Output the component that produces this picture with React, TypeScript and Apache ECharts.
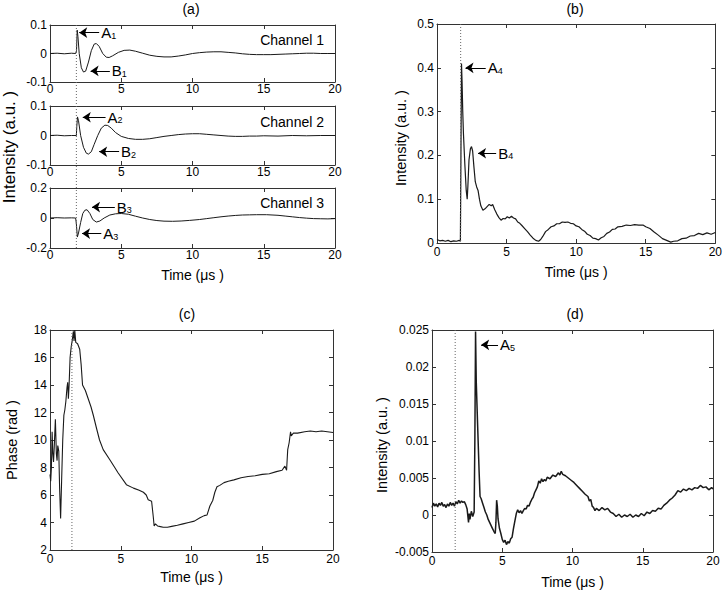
import React, { useEffect, useRef } from 'react';
import * as echarts from 'echarts';

// ---------- data ----------
const timeTicks = [0, 5, 10, 15, 20];

const channel1: number[][] = [
  [0, 0], [0.5, 0.001], [1, -0.001], [1.5, 0.001], [1.8, 0], [1.86, 0.01], [1.91, 0.082], [1.96, 0.06],
  [2.05, 0.0], [2.2, -0.05], [2.35, -0.065], [2.5, -0.062], [2.7, -0.03], [2.9, 0.01], [3.1, 0.033],
  [3.25, 0.035], [3.45, 0.025], [3.7, 0.0], [3.95, -0.013], [4.15, -0.014], [4.4, -0.008], [4.8, 0.004],
  [5.2, 0.011], [5.6, 0.012], [6.0, 0.008], [6.5, 0.001], [7.0, -0.006], [7.5, -0.01], [8.0, -0.012],
  [8.5, -0.012], [9.0, -0.009], [9.5, -0.005], [10.0, 0.0], [10.5, 0.003], [11.0, 0.005], [11.5, 0.006],
  [12.0, 0.006], [12.5, 0.004], [13.0, 0.002], [13.5, -0.001], [14.0, -0.003], [14.5, -0.004], [15.0, -0.004],
  [15.5, -0.004], [16.0, -0.003], [16.5, -0.002], [17.0, -0.001], [17.5, 0.0], [18, 0.001], [18.5, 0.001],
  [19, 0.0], [19.5, 0.0], [20, 0.0],
];

const channel2: number[][] = [
  [0, 0], [0.5, 0.001], [1, -0.001], [1.5, 0.0], [1.85, 0.0], [1.88, 0.03], [1.93, 0.063], [2.0, 0.05],
  [2.15, 0.0], [2.35, -0.04], [2.55, -0.06], [2.7, -0.063], [2.9, -0.055], [3.1, -0.03], [3.35, 0.0],
  [3.6, 0.025], [3.85, 0.035], [4.05, 0.034], [4.3, 0.025], [4.6, 0.01], [5.0, -0.003], [5.5, -0.01],
  [6.0, -0.013], [6.5, -0.013], [7.0, -0.011], [7.5, -0.007], [8.0, -0.003], [8.5, 0.0], [9.0, 0.003],
  [9.5, 0.005], [10.0, 0.006], [10.5, 0.006], [11.0, 0.004], [11.5, 0.002], [12.0, 0.0], [12.5, -0.002],
  [13.0, -0.003], [13.5, -0.003], [14.0, -0.002], [14.5, -0.002], [15, -0.001], [16, -0.002], [17, 0.0],
  [18, -0.001], [19, 0.0], [20, 0.0],
];

const channel3: number[][] = [
  [0, 0], [0.5, 0.002], [1, 0.0], [1.5, 0.001], [1.8, 0.0], [1.85, -0.04], [1.92, -0.127], [2.0, -0.1],
  [2.15, -0.03], [2.3, 0.03], [2.45, 0.052], [2.6, 0.055], [2.8, 0.03], [3.0, -0.01], [3.25, -0.027],
  [3.5, -0.02], [3.8, 0.0], [4.2, 0.02], [4.6, 0.028], [5.0, 0.03], [5.5, 0.025], [6.0, 0.012], [6.5, 0.0],
  [7.0, -0.01], [7.5, -0.017], [8.0, -0.021], [8.6, -0.022], [9.2, -0.02], [9.8, -0.016], [10.5, -0.01],
  [11, -0.004], [11.5, 0.002], [12, 0.008], [12.5, 0.013], [13, 0.017], [13.5, 0.02], [14, 0.021],
  [14.5, 0.022], [15.2, 0.022], [16, 0.018], [16.5, 0.013], [17, 0.008], [17.5, 0.003], [18, -0.001],
  [18.5, -0.004], [19, -0.005], [19.5, -0.006], [20, -0.004],
];

const envelope: number[][] = [
  [0, 0.008], [0.2, 0.005], [0.4, 0.006], [0.6, 0.004], [0.8, 0.006], [1.0, 0.003], [1.2, 0.005], [1.4, 0.004],
  [1.6, 0.006], [1.68, 0.004], [1.72, 0.2], [1.76, 0.41], [1.8, 0.37], [1.85, 0.3], [1.9, 0.25], [2.0, 0.18],
  [2.1, 0.12], [2.17, 0.1], [2.22, 0.13], [2.3, 0.19], [2.4, 0.215], [2.48, 0.22], [2.56, 0.21], [2.65, 0.175],
  [2.75, 0.14], [2.85, 0.128], [2.95, 0.12], [3.05, 0.1], [3.15, 0.085], [3.3, 0.075], [3.45, 0.078],
  [3.6, 0.083], [3.75, 0.088], [3.9, 0.085], [4.0, 0.088], [4.15, 0.076], [4.3, 0.066], [4.45, 0.058],
  [4.6, 0.052], [4.75, 0.056], [4.9, 0.055], [5.05, 0.06], [5.2, 0.057], [5.35, 0.061], [5.5, 0.057],
  [5.65, 0.055], [5.8, 0.048], [5.95, 0.045], [6.1, 0.04], [6.3, 0.033], [6.5, 0.026], [6.7, 0.018],
  [6.9, 0.011], [7.1, 0.006], [7.3, 0.004], [7.45, 0.008], [7.6, 0.015], [7.8, 0.026], [8.0, 0.031],
  [8.2, 0.037], [8.4, 0.039], [8.6, 0.044], [8.8, 0.044], [9.0, 0.048], [9.2, 0.047], [9.4, 0.048],
  [9.6, 0.045], [9.8, 0.044], [10.0, 0.039], [10.2, 0.037], [10.4, 0.031], [10.6, 0.027], [10.8, 0.02],
  [11.0, 0.017], [11.2, 0.011], [11.4, 0.01], [11.6, 0.007], [11.8, 0.012], [12.0, 0.015], [12.2, 0.022],
  [12.4, 0.025], [12.6, 0.031], [12.8, 0.032], [13.0, 0.037], [13.3, 0.038], [13.6, 0.041], [13.9, 0.04],
  [14.2, 0.042], [14.5, 0.041], [14.8, 0.041], [15.0, 0.037], [15.3, 0.033], [15.6, 0.025], [15.9, 0.018],
  [16.2, 0.01], [16.5, 0.006], [16.8, 0.002], [17.0, 0.004], [17.3, 0.005], [17.6, 0.01], [17.9, 0.011],
  [18.2, 0.016], [18.5, 0.017], [18.8, 0.022], [19.1, 0.019], [19.4, 0.023], [19.7, 0.02], [20, 0.024],
];

const phase: number[][] = [
  [0, 7.5], [0.05, 7.0], [0.1, 8.0], [0.15, 10.6], [0.2, 9.0], [0.25, 8.4], [0.3, 9.5], [0.38, 11.5],
  [0.45, 9.0], [0.5, 8.5], [0.55, 9.6], [0.62, 9.2], [0.68, 6.5], [0.75, 4.3], [0.82, 7.0], [0.9, 10.0],
  [0.98, 11.8], [1.05, 12.2], [1.12, 12.8], [1.2, 13.8], [1.25, 14.2], [1.3, 13.0], [1.35, 14.0],
  [1.42, 16.0], [1.5, 16.8], [1.58, 17.3], [1.65, 17.9], [1.7, 17.2], [1.75, 18.0], [1.82, 17.1],
  [1.95, 17.0], [2.1, 16.6], [2.2, 15.5], [2.3, 14.0], [2.5, 13.6], [2.7, 13.0], [2.9, 12.4], [3.06, 11.8],
  [3.3, 10.8], [3.5, 10.0], [3.76, 9.3], [4.24, 8.55], [4.82, 7.6], [5.4, 6.75], [5.9, 6.5], [6.3, 6.35],
  [6.6, 6.2], [6.8, 6.0], [6.94, 5.65], [7.18, 5.55], [7.3, 4.4], [7.36, 3.75], [7.45, 3.9], [7.6, 3.75],
  [7.8, 3.7], [8.0, 3.65], [8.3, 3.65], [8.6, 3.72], [9.0, 3.8], [9.4, 3.9], [9.8, 4.0], [10.2, 4.1],
  [10.6, 4.35], [10.9, 4.5], [11.1, 4.55], [11.3, 5.2], [11.5, 5.6], [11.65, 6.2], [11.8, 6.6], [12.0, 6.7],
  [12.3, 6.9], [12.6, 7.0], [13.0, 7.1], [13.5, 7.25], [14.0, 7.35], [14.5, 7.4], [15.0, 7.5], [15.5, 7.55],
  [16.0, 7.7], [16.4, 7.8], [16.6, 8.1], [16.72, 7.8], [16.8, 9.3], [16.9, 9.8], [17.0, 10.6], [17.05, 10.3],
  [17.2, 10.5], [17.5, 10.5], [18.0, 10.6], [18.4, 10.65], [18.8, 10.6], [19.2, 10.65], [19.6, 10.6], [20, 10.55],
];

const filtered: number[][] = [
  [0, 0.001], [0.1, 0.0016], [0.2, 0.0012], [0.3, 0.0015], [0.4, 0.0011], [0.5, 0.0016], [0.6, 0.0013],
  [0.7, 0.0017], [0.8, 0.0012], [0.9, 0.0014], [1.0, 0.001], [1.1, 0.0015], [1.2, 0.0012], [1.3, 0.0017],
  [1.4, 0.0013], [1.5, 0.0016], [1.6, 0.0012], [1.7, 0.0018], [1.8, 0.0015], [1.9, 0.002], [2.0, 0.0016],
  [2.1, 0.0019], [2.2, 0.0017], [2.3, 0.0018], [2.4, 0.0014], [2.5, 0.0008], [2.6, -0.001], [2.65, 0.0002],
  [2.7, -0.0006], [2.8, 0.0005], [2.9, -0.0002], [3.0, 0.0004], [3.05, 0.01], [3.1, 0.0248], [3.15, 0.018],
  [3.25, 0.012], [3.35, 0.006], [3.42, 0.0025], [3.5, 0.0022], [3.6, 0.0016], [3.7, 0.001], [3.8, 0.0004],
  [3.9, 0.0], [4.0, -0.0006], [4.1, -0.001], [4.2, -0.0014], [4.3, -0.0018], [4.4, -0.0022], [4.5, -0.0025],
  [4.55, -0.001], [4.6, 0.002], [4.65, 0.0012], [4.7, -0.0005], [4.8, -0.0018], [4.9, -0.0025], [5.0, -0.0033],
  [5.1, -0.0037], [5.2, -0.0034], [5.3, -0.004], [5.4, -0.0036], [5.5, -0.0038], [5.6, -0.0032], [5.7, -0.003],
  [5.8, -0.0018], [5.9, -0.0008], [6.0, 0.0002], [6.1, 0.0007], [6.2, 0.0003], [6.3, 0.0006], [6.4, 0.0002],
  [6.5, 0.0006], [6.6, 0.0009], [6.7, 0.0008], [6.8, 0.0013], [6.9, 0.0012], [7.0, 0.0017], [7.1, 0.0021],
  [7.2, 0.0024], [7.3, 0.003], [7.4, 0.0034], [7.5, 0.0038], [7.6, 0.0046], [7.7, 0.0043], [7.8, 0.0049],
  [7.9, 0.0045], [8.0, 0.0048], [8.1, 0.0046], [8.2, 0.0051], [8.4, 0.0049], [8.6, 0.0054], [8.8, 0.0052],
  [9.0, 0.0057], [9.1, 0.0054], [9.2, 0.0059], [9.3, 0.0055], [9.5, 0.0053], [9.7, 0.005], [9.9, 0.0047],
  [10.1, 0.0044], [10.3, 0.004], [10.5, 0.0036], [10.7, 0.0032], [10.9, 0.0028], [11.1, 0.0025], [11.2, 0.0019],
  [11.3, 0.0021], [11.4, 0.0012], [11.5, 0.001], [11.6, 0.0006], [11.7, 0.0009], [11.9, 0.0006], [12.1, 0.001],
  [12.3, 0.0007], [12.5, 0.0009], [12.7, 0.0004], [12.9, 0.0002], [13.1, -0.0002], [13.3, 0.0001], [13.5, -0.0003],
  [13.7, 0.0], [13.9, -0.0002], [14.1, 0.0001], [14.3, -0.0003], [14.5, 0.0], [14.7, -0.0002], [14.9, 0.0002],
  [15.1, -0.0001], [15.3, 0.0004], [15.5, 0.0002], [15.7, 0.0006], [15.9, 0.0005], [16.1, 0.0009], [16.3, 0.0008],
  [16.5, 0.0013], [16.7, 0.0016], [16.9, 0.002], [17.1, 0.0023], [17.3, 0.0027], [17.5, 0.0033], [17.7, 0.0031],
  [17.9, 0.0035], [18.1, 0.0033], [18.3, 0.0036], [18.5, 0.0034], [18.7, 0.0037], [18.9, 0.0036], [19.1, 0.004],
  [19.3, 0.0037], [19.5, 0.0038], [19.7, 0.0034], [19.9, 0.0037], [20, 0.0035],
];

// y ranges [min, max, interval] per plot
const yRangeCh1 = [-0.1, 0.1, 0.1];
const yRangeCh2 = [-0.1, 0.1, 0.1];
const yRangeCh3 = [-0.2, 0.2, 0.2];
const yRangeB = [0, 0.5, 0.1];
const yRangeC = [2, 18, 2];
const yRangeD = [-0.005, 0.025, 0.005];

// onset (dotted line) times
const onsetA = 1.85;
const onsetB = 1.7;
const onsetC = 1.55;
const onsetD = 1.65;

// arrow annotations: [tailX, tailY, headX, headY], letter, subscript
type Arrow = { line: number[]; letter: string; sub: string };
const arrowsCh1: Arrow[] = [
  { line: [3.45, 0.073, 2.05, 0.073], letter: 'A', sub: '1' },
  { line: [4.2, -0.061, 2.85, -0.061], letter: 'B', sub: '1' },
];
const arrowsCh2: Arrow[] = [
  { line: [3.9, 0.062, 2.3, 0.062], letter: 'A', sub: '2' },
  { line: [4.85, -0.055, 3.45, -0.055], letter: 'B', sub: '2' },
];
const arrowsCh3: Arrow[] = [
  { line: [4.55, 0.073, 2.95, 0.073], letter: 'B', sub: '3' },
  { line: [3.6, -0.104, 2.25, -0.104], letter: 'A', sub: '3' },
];
const arrowsB: Arrow[] = [
  { line: [3.5, 0.4, 2.05, 0.4], letter: 'A', sub: '4' },
  { line: [4.25, 0.205, 2.95, 0.205], letter: 'B', sub: '4' },
];
const arrowsD: Arrow[] = [{ line: [4.7, 0.023, 3.5, 0.023], letter: 'A', sub: '5' }];

// ---------- layout ----------
const FONT = '"Liberation Sans", Arial, sans-serif';
const INK = '#000';
const LINE = '#1a1a1a';
const AXIS = '#333';

const grids = [
  { left: 50, top: 25, width: 285, height: 57 },
  { left: 50, top: 106, width: 285, height: 59 },
  { left: 50, top: 188, width: 285, height: 60 },
  { left: 437, top: 24, width: 280, height: 219 },
  { left: 50, top: 330, width: 283, height: 220 },
  { left: 432, top: 330, width: 281, height: 222 },
];

const panels = [
  { data: channel1, y: yRangeCh1, arrows: arrowsCh1, xName: '', gap: 0, margin: 1, lw: 1 },
  { data: channel2, y: yRangeCh2, arrows: arrowsCh2, xName: '', gap: 0, margin: 1, lw: 1 },
  { data: channel3, y: yRangeCh3, arrows: arrowsCh3, xName: 'Time (μs )', gap: 20, margin: 1, lw: 1 },
  { data: envelope, y: yRangeB, arrows: arrowsB, xName: 'Time (μs )', gap: 22, margin: 3, lw: 1.2 },
  { data: phase, y: yRangeC, arrows: [] as Arrow[], xName: 'Time (μs )', gap: 20, margin: 3, lw: 1.1 },
  { data: filtered, y: yRangeD, arrows: arrowsD, xName: 'Time (μs )', gap: 23, margin: 3, lw: 1.5 },
];

function buildOption() {
  const xAxis: any[] = [];
  const yAxis: any[] = [];
  const series: any[] = [];
  const axisLine = { show: true, onZero: false, lineStyle: { color: AXIS, width: 1 } };
  const tick = { show: true, inside: true, length: 4, lineStyle: { color: AXIS } };
  const lbl = { color: INK, fontSize: 12, fontFamily: FONT };
  panels.forEach((p, g) => {
    const xb = {
      type: 'value', gridIndex: g, position: 'bottom', min: timeTicks[0], max: timeTicks[timeTicks.length - 1],
      interval: timeTicks[1] - timeTicks[0], axisLine, axisTick: tick, splitLine: { show: false },
      axisLabel: { ...lbl, margin: p.margin },
      name: p.xName, nameLocation: 'middle', nameGap: p.gap,
      nameTextStyle: { color: INK, fontSize: 14, fontFamily: FONT },
    };
    const xt = { ...xb, position: 'top', axisLabel: { show: false }, name: '' };
    xAxis.push(xb, xt);
    const yl = {
      type: 'value', gridIndex: g, position: 'left', min: p.y[0], max: p.y[1], interval: p.y[2],
      axisLine, axisTick: tick, splitLine: { show: false }, axisLabel: { ...lbl, margin: 3 },
    };
    const yr = { ...yl, position: 'right', axisLabel: { show: false } };
    yAxis.push(yl, yr);
    series.push({
      type: 'line', xAxisIndex: 2 * g, yAxisIndex: 2 * g, data: p.data, showSymbol: false, symbol: 'none',
      lineStyle: { color: LINE, width: p.lw }, silent: true,
      markLine: p.arrows.length
        ? {
            silent: true, symbol: ['none', 'arrow'], symbolSize: 8,
            lineStyle: { color: INK, width: 1, type: 'solid' },
            itemStyle: { color: INK },
            label: {
              show: true, position: 'start', distance: 2,
              rich: {
                n: { fontSize: 15, fontFamily: FONT, color: INK },
                s: { fontSize: 9, fontFamily: FONT, color: INK, verticalAlign: 'bottom', padding: [5, 0, 0, 0] },
              },
            },
            data: p.arrows.map((a) => [
              { coord: [a.line[0], a.line[1]], label: { formatter: `{n|${a.letter}}{s|${a.sub}}` } },
              { coord: [a.line[2], a.line[3]] },
            ]),
          }
        : undefined,
    });
  });
  return {
    animation: false,
    backgroundColor: '#fff',
    grid: grids.map((g) => ({ ...g, containLabel: false })),
    xAxis, yAxis, series,
  };
}

function textEl(text: string, x: number, y: number, size: number, rotate = 0, align = 'center') {
  return {
    type: 'text', x, y, rotation: rotate, silent: true,
    style: { text, fill: INK, font: `${size}px ${FONT}`, align, verticalAlign: 'middle' },
  };
}

export default function App() {
  const ref = useRef<HTMLDivElement>(null);
  useEffect(() => {
    if (!ref.current) return;
    const chart = echarts.init(ref.current, undefined, { renderer: 'svg' });
    chart.setOption(buildOption() as any);
    const px = (axis: number, v: number) => chart.convertToPixel({ xAxisIndex: axis } as any, v) as number;
    const py = (axis: number, v: number) => chart.convertToPixel({ yAxisIndex: axis } as any, v) as number;
    const dotted = (x: number, y1: number, y2: number) => ({
      type: 'line', silent: true, z: 5,
      shape: { x1: x, y1, x2: x, y2 },
      style: { stroke: '#666', lineWidth: 1, lineDash: [1, 2] },
    });
    const graphic: any[] = [
      dotted(px(0, onsetA), py(0, yRangeCh1[1]), py(4, yRangeCh3[0])),
      dotted(px(6, onsetB), py(6, yRangeB[1]), py(6, yRangeB[0])),
      dotted(px(8, onsetC), py(8, yRangeC[1]), py(8, yRangeC[0])),
      dotted(px(10, onsetD), py(10, yRangeD[1]), py(10, yRangeD[0])),
      textEl('(a)', 191, 9, 14),
      textEl('(b)', 575, 9, 14),
      textEl('(c)', 187, 314, 14),
      textEl('(d)', 575, 314, 14),
      textEl('Channel 1', 324, 40, 14, 0, 'right'),
      textEl('Channel 2', 324, 122, 14, 0, 'right'),
      textEl('Channel 3', 324, 203, 14, 0, 'right'),
      textEl('Intensity (a.u. )', 9, 147, 17, Math.PI / 2),
      textEl('Intensity (a.u. )', 401, 138, 14.5, Math.PI / 2),
      textEl('Phase (rad )', 12, 440, 14.5, Math.PI / 2),
      textEl('Intensity (a.u. )', 382, 445, 14.5, Math.PI / 2),
    ];
    chart.setOption({ graphic });
    return () => chart.dispose();
  }, []);
  return (
    <div
      ref={ref}
      style={{ position: 'fixed', left: 0, top: 0, width: 725, height: 592, background: '#fff' }}
    />
  );
}
